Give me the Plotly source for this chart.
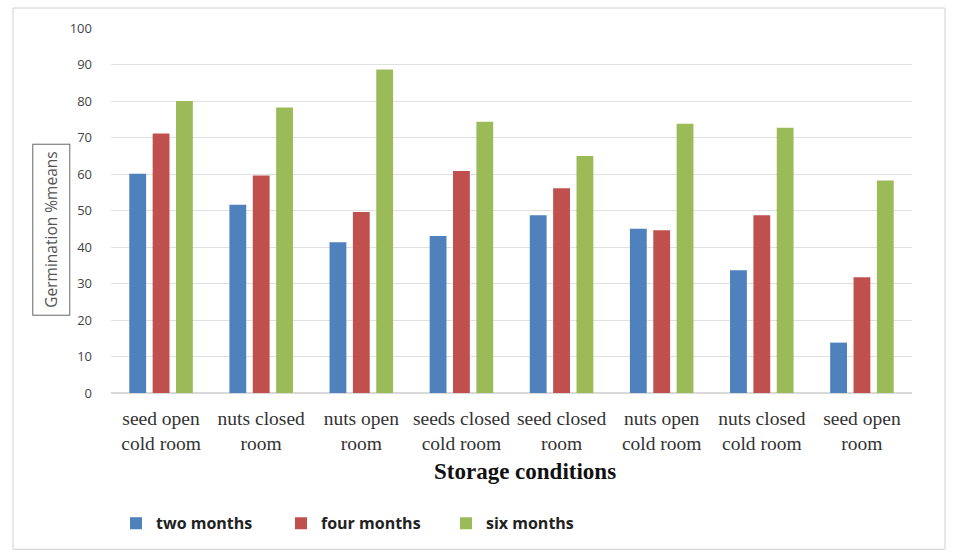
import plotly.graph_objects as go

categories = ["seed open<br>cold room", "nuts closed<br>room", "nuts open<br>room",
              "seeds closed<br>cold room", "seed closed<br>room", "nuts open<br>cold room",
              "nuts closed<br>cold room", "seed open<br>room"]
two_months = [60.1, 51.6, 41.3, 43.0, 48.7, 45.0, 33.6, 13.8]
four_months = [71.1, 59.6, 49.6, 60.8, 56.1, 44.6, 48.7, 31.7]
six_months = [80.0, 78.2, 88.6, 74.3, 64.9, 73.8, 72.7, 58.2]
y_ticks = list(range(0, 101, 10))

fig = go.Figure()
for name, vals, col in [("<b>two months</b>", two_months, "#4F81BD"),
                        ("<b>four months</b>", four_months, "#C0504D"),
                        ("<b>six months</b>", six_months, "#9BBB59")]:
    fig.add_trace(go.Bar(x=categories, y=vals, name=name, marker_color=col,
                         marker_line_width=0))

W, H = 956, 558
l, r, t, b = 111, 44, 28, 164.5
pw, ph = W - l - r, H - t - b


def px_x(px):
    return (px - l) / pw


def px_y(py):
    return (H - b - py) / ph


fig.update_layout(
    width=W, height=H,
    margin=dict(l=l, r=r, t=t, b=b),
    paper_bgcolor="white", plot_bgcolor="white",
    barmode="group", bargap=0.3, bargroupgap=0.28,
    showlegend=True,
    legend=dict(orientation="h", x=px_x(116), y=px_y(524),
                xanchor="left", yanchor="middle",
                font=dict(family="Open Sans, Arial", size=16, color="#222"),
                itemwidth=30, entrywidth=120, entrywidthmode="pixels",
                traceorder="normal"),
    xaxis=dict(tickfont=dict(family="Liberation Serif, Times New Roman", size=19.5, color="#333"),
               showgrid=False, showline=False, ticks="", ticklabelstandoff=11),
    yaxis=dict(range=[0, 100], tickvals=y_ticks, showgrid=True, gridcolor="#e0e0e0",
               gridwidth=1, zeroline=True, zerolinecolor="#d9d9d9",
               tickfont=dict(family="Open Sans, Arial", size=13, color="#444"),
               ticklabelstandoff=18),
    font=dict(family="Open Sans, Arial"),
)

fig.add_annotation(text="<b>Storage conditions</b>",
                   xref="paper", yref="paper", x=px_x(525), y=px_y(472),
                   xanchor="center", yanchor="middle", showarrow=False,
                   font=dict(family="Liberation Serif, Times New Roman", size=23, color="#111"))

fig.add_annotation(text="Germination %means", textangle=-90,
                   xref="paper", yref="paper",
                   x=px_x(51), y=px_y(230),
                   xanchor="center", yanchor="middle",
                   showarrow=False, bordercolor="#666", borderwidth=1, borderpad=7,
                   font=dict(family="Open Sans, Arial", size=15.5, color="#555"))

fig.add_shape(type="rect", xref="paper", yref="paper",
              x0=px_x(13), x1=px_x(945),
              y0=px_y(550), y1=px_y(8),
              line=dict(color="#d0d0d0", width=1), fillcolor="rgba(0,0,0,0)", layer="below")

fig.write_html("out.html")
